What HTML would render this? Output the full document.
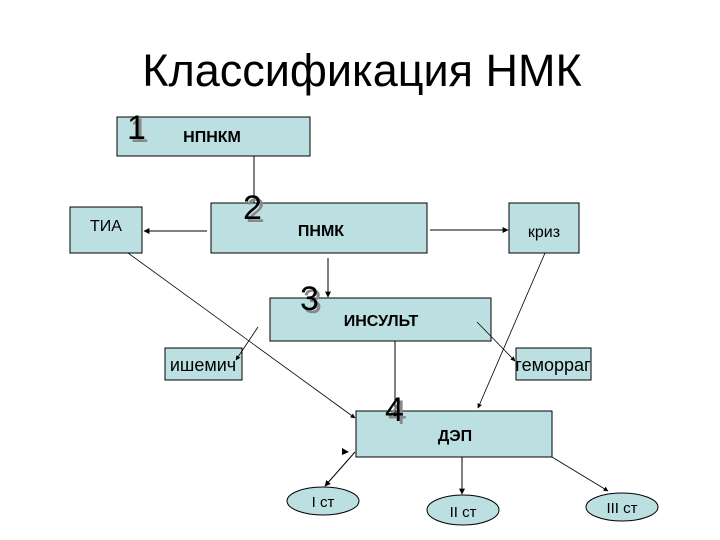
<!DOCTYPE html>
<html><head><meta charset="utf-8"><style>
body{margin:0;background:#fff}
svg{display:block}
text{font-family:"Liberation Sans",sans-serif}
</style></head><body>
<svg width="720" height="540" viewBox="0 0 720 540">
<defs><marker id="a" viewBox="0 0 10 10" refX="9" refY="5" markerWidth="6" markerHeight="6" orient="auto"><path d="M0,0L10,5L0,10z" fill="#000"/></marker></defs>
<text x="362" y="86" font-size="45" text-anchor="middle">Классификация НМК</text>
<g fill="#bcdfe2" stroke="#000" stroke-width="1">
<rect x="117" y="117" width="193" height="39"/>
<rect x="70" y="207" width="72" height="46"/>
<rect x="211" y="203" width="216" height="50"/>
<rect x="509" y="203" width="70" height="50"/>
<rect x="270" y="298" width="221" height="43"/>
<rect x="165" y="348" width="77" height="32"/>
<rect x="516" y="348" width="75" height="32"/>
<rect x="356" y="411" width="196" height="46"/>
<ellipse cx="323" cy="501" rx="36" ry="14"/>
<ellipse cx="463" cy="510" rx="36" ry="15"/>
<ellipse cx="622" cy="507" rx="36" ry="14"/>
</g>
<g stroke="#000" stroke-width="1" fill="none">
<line x1="254" y1="156" x2="254" y2="203"/>
<line x1="207" y1="231" x2="144" y2="231" marker-end="url(#a)"/>
<line x1="430" y1="230" x2="508" y2="230" marker-end="url(#a)"/>
<line x1="328" y1="258" x2="328" y2="297" marker-end="url(#a)"/>
<line x1="128" y1="253" x2="355" y2="418" stroke-width="0.8" marker-end="url(#a)"/>
<line x1="545" y1="253" x2="478" y2="408" stroke-width="0.8" marker-end="url(#a)"/>
<line x1="258" y1="327" x2="236" y2="360" stroke-width="0.8" marker-end="url(#a)"/>
<line x1="477" y1="322" x2="515" y2="361" stroke-width="0.8" marker-end="url(#a)"/>
<line x1="395" y1="341" x2="395" y2="418" marker-end="url(#a)"/>
<line x1="355" y1="452" x2="325" y2="486" marker-end="url(#a)"/>
<line x1="462" y1="457" x2="462" y2="494" marker-end="url(#a)"/>
<line x1="552" y1="457" x2="608" y2="491" stroke-width="0.8" marker-end="url(#a)"/>
</g>
<path d="M342,448L349,452L342,455z" fill="#000"/>
<g font-weight="bold" font-size="16" text-anchor="middle">
<text x="212" y="142">НПНКМ</text>
<text x="321" y="236">ПНМК</text>
<text x="381" y="326">ИНСУЛЬТ</text>
<text x="455" y="441">ДЭП</text>
</g>
<g font-size="16" text-anchor="middle">
<text x="106" y="231">ТИА</text>
<text x="544" y="237">криз</text>
<text x="203" y="371" font-size="18">ишемич</text>
<text x="553" y="371" font-size="18">геморраг</text>
<text x="323" y="507" font-size="15">I ст</text>
<text x="463" y="517" font-size="15">II ст</text>
<text x="622" y="513" font-size="15">III ст</text>
</g>
<g font-size="34">
<text x="130" y="142" fill="#888">1</text><text x="127" y="139">1</text>
<text x="246" y="222" fill="#888">2</text><text x="243" y="219">2</text>
<text x="303" y="313" fill="#888">3</text><text x="300" y="310">3</text>
<text x="388" y="424" fill="#888">4</text><text x="385" y="421">4</text>
</g>
</svg>
</body></html>
